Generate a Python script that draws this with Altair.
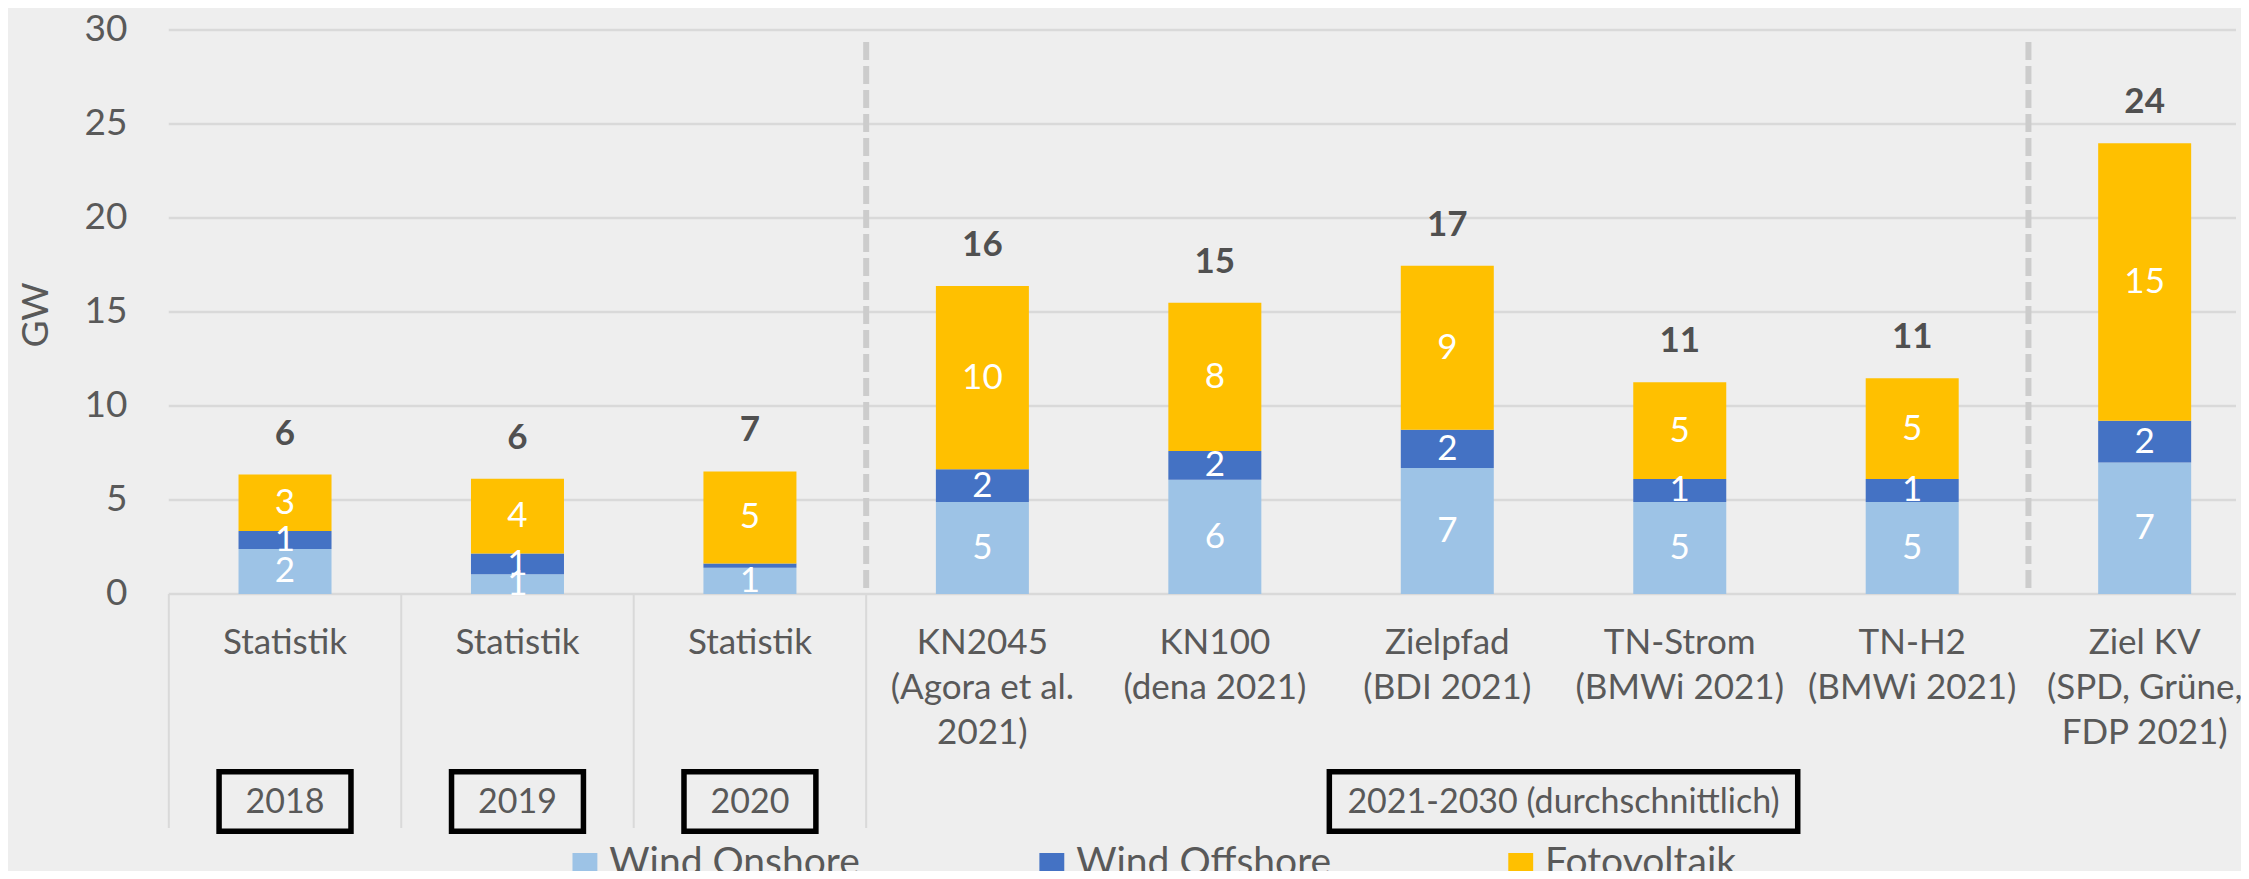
import altair as alt
import pandas as pd

# ---------------- data ----------------
cat_labels = [
    "Statistik", "Statistik", "Statistik",
    "KN2045\n(Agora et al.\n2021)", "KN100\n(dena 2021)", "Zielpfad\n(BDI 2021)",
    "TN-Strom\n(BMWi 2021)", "TN-H2\n(BMWi 2021)", "Ziel KV\n(SPD, Grüne,\nFDP 2021)",
]
series_names = ["Wind Onshore", "Wind Offshore", "Fotovoltaik"]
series_colors = ["#9DC3E6", "#4472C4", "#FFC000"]
wind_onshore = [2.4, 1.05, 1.4, 4.9, 6.08, 6.7, 4.9, 4.9, 7.0]
wind_offshore = [0.95, 1.1, 0.22, 1.73, 1.52, 2.04, 1.22, 1.22, 2.21]
fotovoltaik = [3.0, 3.98, 4.9, 9.75, 7.89, 8.72, 5.14, 5.35, 14.76]
period_labels = ["2018", "2019", "2020", "2021-2030 (durchschnittlich)"]
period_start = [0, 1, 2, 3]
period_end = [1, 2, 3, 9]
y_ticks = [0, 5, 10, 15, 20, 25, 30]
y_title = "GW"

# ---------------- geometry helpers (page pixels -> data units) ----------------
X0_PX, COL_PX = 164.5, 233.5     # page x of column 0 left edge, column width
Y0_PX, UNIT_PX = 594.0, 18.8     # page y of value 0, pixels per GW
W, H = 2233, 863                 # view size (page minus 8px margins)


def px2x(p):
    return (p - X0_PX) / COL_PX


def py2y(p):
    return (Y0_PX - p) / UNIT_PX


XMIN, XMAX = px2x(8), px2x(8 + W)
YMAX, YMIN = py2y(8), py2y(8 + H)
xs = alt.Scale(domain=[XMIN, XMAX], nice=False, zero=False)
ys = alt.Scale(domain=[YMIN, YMAX], nice=False, zero=False)


def X(f, **kw):
    return alt.X(f, type="quantitative", scale=xs, axis=None, **kw)


def Y(f, **kw):
    return alt.Y(f, type="quantitative", scale=ys, axis=None, **kw)


def XD(v):
    return alt.datum(v, type="quantitative", scale=xs, axis=None)


def YD(v):
    return alt.datum(v, type="quantitative", scale=ys, axis=None)


FONT = "Lato, sans-serif"
GREY = "#595959"

# ---------------- tables ----------------
rows = []
for i in range(len(cat_labels)):
    vals = [wind_onshore[i], wind_offshore[i], fotovoltaik[i]]
    cum = 0.0
    for k, (s, v) in enumerate(zip(series_names, vals)):
        rows.append(dict(idx=i, xc=i + 0.5, series=s, order=k, value=v,
                         mid=cum + v / 2, lab=str(round(v)) if v >= 0.5 else ""))
        cum += v
df = pd.DataFrame(rows)
tot = df.groupby(["idx", "xc"], as_index=False)["value"].sum()
tot["lab"] = tot["value"].round().astype(int).astype(str)

cats = pd.DataFrame(dict(xc=[i + 0.5 for i in range(len(cat_labels))], lab=cat_labels))
grid = pd.DataFrame(dict(y=y_ticks, lab=[str(t) for t in y_ticks]))

color = alt.Color("series:N", scale=alt.Scale(domain=series_names, range=series_colors), legend=None)

# ---------------- layers ----------------
gridlines = alt.Chart(grid).mark_rule(color="#D9D9D9", strokeWidth=2.5).encode(
    x=XD(0), x2=alt.datum(XMAX), y=Y("y"))

ylabels = alt.Chart(grid).mark_text(align="right", baseline="middle", font=FONT,
                                    fontSize=37, color=GREY).encode(
    x=XD(px2x(123)), y=Y("y"), text="lab:N")

ytitle = alt.Chart(pd.DataFrame(dict(t=[y_title]))).mark_text(
    angle=270, align="center", baseline="middle", font=FONT, fontSize=37, color=GREY).encode(
    x=XD(px2x(32)), y=YD(py2y(315)), text="t:N")

seps = alt.Chart(pd.DataFrame(dict(x=period_start + [period_end[-1]]))).mark_rule(
    color="#D9D9D9", strokeWidth=2).encode(
    x=X("x"), y=YD(0), y2=alt.datum(py2y(828)))

dashes = alt.Chart(pd.DataFrame(dict(x=[period_start[-1], period_end[-1] - 1]))).mark_rule(
    color="#CCCCCC", strokeWidth=6, strokeDash=[18, 6]).encode(
    x=X("x"), y=YD(py2y(42)), y2=alt.datum(py2y(588)))

bars = alt.Chart(df).mark_bar(size=93).encode(
    x=X("xc"), y=Y("value", stack="zero"), color=color, order=alt.Order("order:Q"))

seglabels = alt.Chart(df).mark_text(baseline="middle", font=FONT, fontSize=35, color="white").encode(
    x=X("xc"), y=Y("mid"), text="lab:N")

totlabels = alt.Chart(tot).mark_text(baseline="middle", font=FONT, fontSize=35, fontWeight="bold",
                                     color="#505050", dy=-41).encode(
    x=X("xc"), y=Y("value"), text="lab:N")

catlabels = alt.Chart(cats).mark_text(baseline="alphabetic", font=FONT, fontSize=35, color=GREY,
                                      lineBreak="\n", lineHeight=45).encode(
    x=X("xc"), y=YD(py2y(654)), text="lab:N")

per = pd.DataFrame(dict(lab=period_labels, s=period_start, e=period_end))
per["c"] = (per["s"] + per["e"]) / 2
per["half"] = [px2x(X0_PX + 66.25) if n == 1 else px2x(X0_PX + 235.25) for n in (per["e"] - per["s"])]
per["x1"] = per["c"] - per["half"]
per["x2"] = per["c"] + per["half"]
boxes = alt.Chart(per).mark_rect(fill="#EEEEEE", stroke="black", strokeWidth=5.5).encode(
    x=X("x1"), x2="x2", y=YD(py2y(771.75)), y2=alt.datum(py2y(831.25)))
boxtext = alt.Chart(per).mark_text(baseline="middle", font=FONT, fontSize=34, color=GREY).encode(
    x=X("c"), y=YD(py2y(803)), text="lab:N")

leg_sq_px = [570, 1039, 1510]
leg = pd.DataFrame(dict(series=series_names,
                        x1=[px2x(p) for p in leg_sq_px],
                        x2=[px2x(p + 25) for p in leg_sq_px],
                        xt=[px2x(p + 37) for p in leg_sq_px]))
legsq = alt.Chart(leg).mark_rect().encode(
    x=X("x1"), x2="x2", y=YD(py2y(853)), y2=alt.datum(py2y(877)), color=color)
legtxt = alt.Chart(leg).mark_text(align="left", baseline="alphabetic", font=FONT, fontSize=39,
                                  color=GREY).encode(
    x=X("xt"), y=YD(py2y(875)), text="series:N")

chart = alt.layer(
    gridlines, seps, dashes, bars, seglabels, totlabels, ylabels, ytitle,
    catlabels, boxes, boxtext, legsq, legtxt
).properties(
    width=W, height=H, padding=0, background="#EEEEEE",
    autosize=alt.AutoSizeParams(type="none")
).configure_view(stroke=None)

chart.save("out.html", embed_options={"renderer": "svg", "actions": False})
